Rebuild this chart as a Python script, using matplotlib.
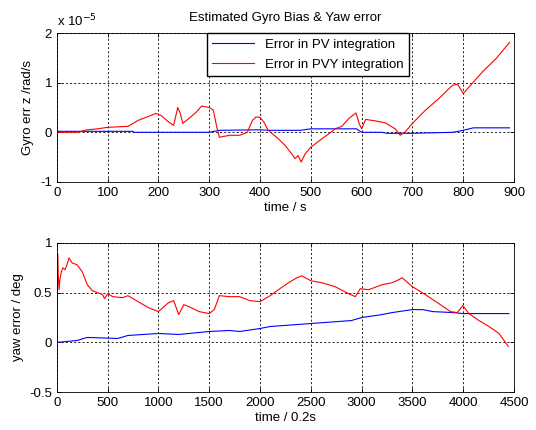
import numpy as np
import matplotlib.pyplot as plt

# top panel: gyro bias error z (units of 1e-5 rad/s) vs time / s
t_pvy_top = [0, 40, 60, 80, 100, 140, 160, 180, 195, 205, 220, 230, 238, 243, 248,
             260, 275, 285, 300, 308, 315, 320, 340, 360, 375, 385, 392, 400, 408,
             416, 436, 449, 462, 469, 475, 481, 489, 500, 522, 538, 548, 561, 575,
             589, 595, 600, 608, 627, 647, 666, 676, 686, 700, 726, 752, 779, 789,
             800, 812, 838, 865, 891]
gyro_pvy = [0.0, 0.0, 0.05, 0.07, 0.1, 0.12, 0.24, 0.32, 0.38, 0.34, 0.21, 0.14,
            0.5, 0.38, 0.18, 0.28, 0.41, 0.53, 0.5, 0.45, 0.1, -0.1, -0.06, -0.06,
            0.0, 0.24, 0.31, 0.3, 0.2, 0.04, -0.13, -0.26, -0.43, -0.53, -0.47,
            -0.6, -0.43, -0.3, -0.13, -0.01, 0.07, 0.12, 0.28, 0.39, 0.18, 0.07,
            0.26, 0.23, 0.19, 0.07, -0.06, 0.01, 0.18, 0.45, 0.68, 0.95, 0.97,
            0.78, 0.92, 1.22, 1.49, 1.81]

t_pv_top = [0, 150, 151, 300, 320, 400, 416, 480, 500, 590, 600, 640, 650, 700,
            780, 800, 820, 891]
gyro_pv = [0.02, 0.02, 0.0, 0.0, 0.04, 0.05, 0.04, 0.04, 0.07, 0.07, 0.0, 0.0,
           -0.02, -0.02, 0.0, 0.04, 0.09, 0.09]

# bottom panel: yaw error / deg vs time / 0.2s
t_pvy_bot = [0, 8, 14, 22, 30, 45, 60, 80, 100, 120, 150, 200, 250, 300, 350, 400,
             450, 470, 500, 550, 650, 700, 800, 900, 1000, 1100, 1150, 1200, 1250,
             1300, 1400, 1500, 1550, 1600, 1700, 1800, 1900, 2000, 2100, 2181,
             2280, 2362, 2411, 2500, 2609, 2740, 2872, 2938, 2987, 3069, 3201,
             3299, 3365, 3398, 3500, 3628, 3760, 3875, 3941, 3997, 4056, 4155,
             4253, 4352, 4444]
yaw_pvy = [0.0, 0.89, 0.68, 0.53, 0.63, 0.71, 0.75, 0.73, 0.78, 0.85, 0.8, 0.78,
           0.71, 0.58, 0.52, 0.5, 0.48, 0.44, 0.49, 0.46, 0.45, 0.47, 0.41, 0.35,
           0.31, 0.4, 0.42, 0.28, 0.38, 0.36, 0.31, 0.29, 0.33, 0.47, 0.46, 0.46,
           0.42, 0.41, 0.47, 0.53, 0.6, 0.65, 0.67, 0.62, 0.6, 0.56, 0.49, 0.46,
           0.54, 0.53, 0.58, 0.6, 0.63, 0.65, 0.56, 0.48, 0.39, 0.31, 0.3, 0.37,
           0.29, 0.22, 0.16, 0.09, -0.04]

t_pv_bot = [0, 200, 300, 600, 700, 1000, 1200, 1500, 1700, 1800, 2000, 2100, 2500,
            2900, 3000, 3200, 3300, 3500, 3600, 3700, 3900, 4000, 4200, 4450]
yaw_pv = [0.0, 0.02, 0.05, 0.04, 0.07, 0.09, 0.08, 0.11, 0.12, 0.11, 0.14, 0.16,
          0.19, 0.22, 0.25, 0.28, 0.30, 0.33, 0.33, 0.31, 0.30, 0.29, 0.29, 0.29]

plt.rcParams['font.family'] = ['Liberation Sans', 'DejaVu Sans']
plt.rcParams['font.size'] = 9.5


def style_axes(ax):
    ax.grid(True, color='black', linestyle=(0, (2.5, 2.5)), linewidth=0.6)
    ax.tick_params(direction='in', length=3, width=0.6, top=True, right=True)
    for s in ax.spines.values():
        s.set_linewidth(0.6)


fig = plt.figure(figsize=(5.36, 4.30), dpi=100)
ax1 = fig.add_axes([0.106, 0.577, 0.853, 0.346])
ax2 = fig.add_axes([0.106, 0.088, 0.853, 0.347])

ax1.plot(t_pv_top, gyro_pv, color='blue', linewidth=0.8, label='Error in PV integration')
ax1.plot(t_pvy_top, gyro_pvy, color='red', linewidth=0.8, label='Error in PVY integration')
ax1.set_xlim(0, 900)
ax1.set_ylim(-1, 2)
ax1.set_xticks(np.arange(0, 901, 100))
ax1.set_yticks([-1, 0, 1, 2])
ax1.set_yticklabels(['-1', '0', '1', '2'])
ax1.set_xlabel('time / s', labelpad=2)
ax1.set_ylabel('Gyro err z /rad/s')
ax1.set_title('Estimated Gyro Bias & Yaw error', fontsize=9.5, pad=9)
ax1.text(0.0, 1.025, r'x 10$^{-5}$', transform=ax1.transAxes, fontsize=9.5,
         ha='left', va='bottom')
ax1.legend(loc='upper left', bbox_to_anchor=(0.328, 1.0), borderaxespad=0,
           fancybox=False, edgecolor='black', framealpha=1, handlelength=3.2,
           labelspacing=0.6)
style_axes(ax1)

ax2.plot(t_pv_bot, yaw_pv, color='blue', linewidth=0.8)
ax2.plot(t_pvy_bot, yaw_pvy, color='red', linewidth=0.8)
ax2.set_xlim(0, 4500)
ax2.set_ylim(-0.5, 1)
ax2.set_xticks(np.arange(0, 4501, 500))
ax2.set_yticks([-0.5, 0, 0.5, 1])
ax2.set_yticklabels(['-0.5', '0', '0.5', '1'])
ax2.set_xlabel('time / 0.2s', labelpad=2)
ax2.set_ylabel('yaw error / deg')
style_axes(ax2)

fig.savefig('out.png', dpi=100)
